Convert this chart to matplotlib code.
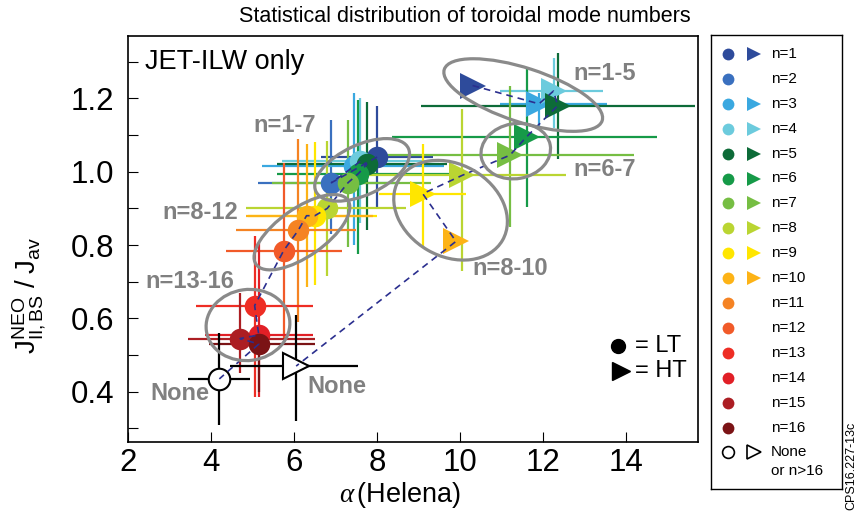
import matplotlib.pyplot as plt
import matplotlib.transforms as mtransforms
from matplotlib.patches import Ellipse
import numpy as np

plt.rcParams['font.family'] = ['Liberation Sans', 'DejaVu Sans']
plt.rcParams['mathtext.fontset'] = 'custom'
plt.rcParams['mathtext.rm'] = 'Liberation Sans'
plt.rcParams['mathtext.it'] = 'Liberation Serif:italic'

# colours per toroidal mode number
mode_names = ['n=1', 'n=2', 'n=3', 'n=4', 'n=5', 'n=6', 'n=7', 'n=8', 'n=9',
              'n=10', 'n=11', 'n=12', 'n=13', 'n=14', 'n=15', 'n=16', 'None']
mode_colors = ['#2E4B9B', '#3A70BF', '#3AA8E0', '#6CCBDD', '#0D6B38', '#169A48',
               '#76BE43', '#BAD532', '#FFE600', '#FDB316', '#F58323', '#F15A29',
               '#EE2D24', '#E11F26', '#AC1E23', '#7B1315', 'white']

# LT points (circles): one per mode, n=1..16 then None
lt_x = [8.0, 6.9, 7.45, 7.6, 7.75, 7.55, 7.3, 6.8, 6.5, 6.3, 6.1, 5.75,
        5.05, 5.15, 4.7, 5.15, 4.2]
lt_y = [1.04, 0.97, 1.015, 1.03, 1.02, 0.995, 0.97, 0.90, 0.88, 0.88, 0.84,
        0.785, 0.635, 0.555, 0.545, 0.53, 0.435]
lt_xlo = [1.35, 1.77, 2.23, 1.9, 2.17, 1.95, 1.84, 1.95, 1.6, 1.45, 1.5, 1.4,
          1.4, 1.3, 1.25, 1.2, 0.75]
lt_xhi = [1.35, 1.6, 2.15, 1.9, 1.93, 2.3, 2.0, 1.9, 1.5, 1.6, 1.4, 1.4,
          1.4, 1.3, 1.8, 1.35, 0.74]
lt_ylo = [0.14, 0.14, 0.215, 0.17, 0.18, 0.22, 0.175, 0.185, 0.19, 0.195,
          0.25, 0.24, 0.25, 0.17, 0.095, 0.13, 0.126]
lt_yhi = [0.14, 0.17, 0.2, 0.17, 0.17, 0.2, 0.17, 0.185, 0.2, 0.195,
          0.25, 0.24, 0.19, 0.25, 0.125, 0.052, 0.124]

# HT points (triangles)
ht_idx = [0, 2, 3, 4, 5, 6, 7, 8, 9, 16]   # index into mode lists
ht_x = [10.3, 11.9, 12.25, 12.35, 11.6, 11.2, 10.05, 9.1, 9.9, 6.05]
ht_y = [1.235, 1.185, 1.22, 1.18, 1.095, 1.045, 0.99, 0.94, 0.81, 0.47]
ht_xlo = [0, 0.95, 1.3, 3.3, 3.25, 3.0, 2.5, 1.05, 0, 1.6]
ht_xhi = [0, 1.63, 1.2, 3.3, 3.15, 3.0, 2.5, 1.05, 0, 1.5]
ht_ylo = [0, 0.06, 0.1, 0.145, 0.19, 0.195, 0.26, 0.145, 0, 0.15]
ht_yhi = [0, 0.03, 0.09, 0.145, 0.19, 0.19, 0.18, 0.135, 0, 0.14]

# grouping ellipses: label, centre (data), label position (data)
groups = ['n=1-7', 'n=8-12', 'n=13-16', 'n=1-5', 'n=6-7', 'n=8-10']
group_cx = [7.64, 6.19, 4.89, 11.52, 11.34, 9.77]
group_cy = [1.005, 0.835, 0.582, 1.209, 1.056, 0.895]
group_tx = [5.78, 3.73, 3.49, 13.49, 13.49, 11.2]
group_ty = [1.127, 0.89, 0.70, 1.269, 1.005, 0.737]
# ellipse sizes in pixels (width, height, angle)
group_shape = [(102, 50, 25), (112, 48, 35), (84, 71, 8),
               (166, 54, -18), (70, 55, 10), (120, 92, -30)]

fig = plt.figure(figsize=(8.56, 5.12), dpi=100)
ax = fig.add_axes([128 / 856, 1 - 442 / 512, 570 / 856, 406 / 512])

for i in range(len(lt_x)):
    c = 'black' if mode_names[i] == 'None' else mode_colors[i]
    ax.errorbar(lt_x[i], lt_y[i], xerr=[[lt_xlo[i]], [lt_xhi[i]]],
                yerr=[[lt_ylo[i]], [lt_yhi[i]]], fmt='none', ecolor=c,
                elinewidth=1.6, capsize=0, zorder=1)
for j, i in enumerate(ht_idx):
    c = 'black' if mode_names[i] == 'None' else mode_colors[i]
    if ht_xlo[j] + ht_ylo[j] > 0:
        ax.errorbar(ht_x[j], ht_y[j], xerr=[[ht_xlo[j]], [ht_xhi[j]]],
                    yerr=[[ht_ylo[j]], [ht_yhi[j]]], fmt='none', ecolor=c,
                    elinewidth=1.6, capsize=0, zorder=1)

for i in range(len(lt_x)):
    ec = 'black' if mode_names[i] == 'None' else mode_colors[i]
    ax.plot(lt_x[i], lt_y[i], 'o', ms=15.5, mfc=mode_colors[i], mec=ec,
            mew=1.5 if mode_names[i] == 'None' else 0, zorder=3)
for j, i in enumerate(ht_idx):
    ec = 'black' if mode_names[i] == 'None' else mode_colors[i]
    ax.plot(ht_x[j], ht_y[j], '>', ms=18.5, mfc=mode_colors[i], mec=ec,
            mew=1.5 if mode_names[i] == 'None' else 0, zorder=3)

ax.plot(lt_x, lt_y, ls=(0, (4, 3)), color='#2B2F8F', lw=1.2, zorder=4)
ax.plot(ht_x, ht_y, ls=(0, (4, 3)), color='#2B2F8F', lw=1.2, zorder=4)

for k, name in enumerate(groups):
    w, h, ang = group_shape[k]
    tr = mtransforms.ScaledTranslation(group_cx[k], group_cy[k], ax.transData)
    ax.add_patch(Ellipse((0, 0), w, h, angle=ang, fill=False, ec='#8a8a8a',
                         lw=2.3, transform=tr, zorder=5))
    ax.text(group_tx[k], group_ty[k], name, color='#808080', fontsize=17,
            fontweight='bold', ha='center', va='center', zorder=6)

ax.text(3.25, 0.395, 'None', color='#808080', fontsize=17, fontweight='bold',
        ha='center', va='center')
ax.text(7.04, 0.415, 'None', color='#808080', fontsize=17, fontweight='bold',
        ha='center', va='center')

ax.text(0.03, 0.936, 'JET-ILW only', transform=ax.transAxes, fontsize=19.5,
        va='center', ha='left')

ax.plot(0.86, 0.236, 'o', ms=10, color='black', transform=ax.transAxes)
ax.plot(0.865, 0.176, '>', ms=13, color='black', transform=ax.transAxes)
ax.text(0.889, 0.236, '= LT', transform=ax.transAxes, fontsize=17,
        va='center')
ax.text(0.889, 0.176, '= HT', transform=ax.transAxes, fontsize=17,
        va='center')

ax.set_xlim(2, 15.73)
ax.set_ylim(0.263, 1.37)
ax.set_xticks([2, 4, 6, 8, 10, 12, 14])
ax.set_yticks([0.4, 0.6, 0.8, 1.0, 1.2])
ax.set_yticks(np.arange(0.3, 1.35, 0.1), minor=True)
ax.tick_params(axis='both', direction='in', labelsize=22.5, length=7, width=0.8)
ax.tick_params(axis='y', which='minor', direction='in', length=7, width=0.8)
ax.tick_params(axis='x', pad=4)
ax.tick_params(axis='y', pad=10)
for s in ax.spines.values():
    s.set_linewidth(1.2)

ax.set_xlabel(r'$\alpha\,$(Helena)', fontsize=19.5)
ax.xaxis.set_label_coords(0.477, -0.093)
ax.set_ylabel(r'$\mathrm{J^{NEO}_{II,BS}\ /\ J_{av}}$', fontsize=20)
ax.yaxis.set_label_coords(-0.14, 0.36)

fig.text(465 / 856, 1 - 17 / 512, 'Statistical distribution of toroidal mode numbers',
         fontsize=15.5, ha='center', va='center')

# legend panel
lg = fig.add_axes([711 / 856, 1 - 489 / 512, 131 / 856, 454 / 512])
lg.set_xlim(0, 131)
lg.set_ylim(454, 0)
lg.set_xticks([])
lg.set_yticks([])
for s in lg.spines.values():
    s.set_linewidth(1.0)
rows = 19 + 24.9 * np.arange(len(mode_names))
ht_names = [mode_names[i] for i in ht_idx]
for i, name in enumerate(mode_names):
    ec = 'black' if name == 'None' else mode_colors[i]
    lg.plot(17, rows[i], 'o', ms=8.5, mfc=mode_colors[i], mec=ec,
            mew=1.2 if name == 'None' else 0)
    if name in ht_names:
        lg.plot(43, rows[i], '>', ms=10, mfc=mode_colors[i], mec=ec,
                mew=1.2 if name == 'None' else 0)
    lg.text(60, rows[i], name, fontsize=11, va='center', ha='left')
lg.text(60, rows[-1] + 19, 'or n>16', fontsize=11, va='center', ha='left')

fig.text(851 / 856, 2 / 512, 'CPS16.227-13c', rotation=90, fontsize=9,
         ha='center', va='bottom')

fig.savefig('out.png', dpi=100)
